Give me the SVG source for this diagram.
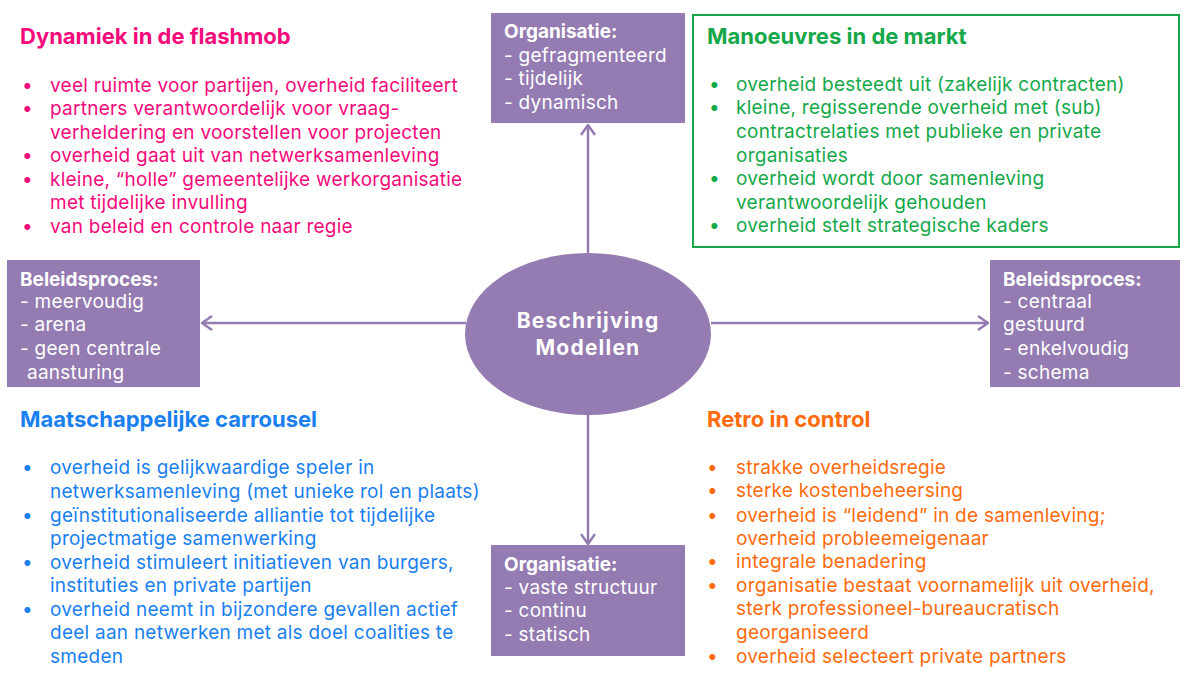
<svg xmlns="http://www.w3.org/2000/svg" width="1185" height="675" viewBox="0 0 1185 675">
<style>
text{font-family:Inter,"Open Sans","DejaVu Sans",sans-serif;font-size:19px;letter-spacing:0.25px}
.h{font-weight:bold;font-size:22px;letter-spacing:0}
.pink{fill:#f50a7c}.green{fill:#14a84a}.blue{fill:#1a7ff0}.orange{fill:#ff6b0d}
.w{fill:#ffffff}.b{font-weight:bold;font-size:19px;letter-spacing:0}
.c{font-weight:bold;font-size:21px;letter-spacing:1.2px}
.box{fill:#947bb1}
.conn{stroke:#947bb1;stroke-width:2.5;fill:none}
</style>
<defs>
<marker id="ah" viewBox="0 0 12 16" refX="11" refY="8" markerWidth="12" markerHeight="16" markerUnits="userSpaceOnUse" orient="auto">
<path d="M1,1 L11,8 L1,15" fill="none" stroke="#947bb1" stroke-width="2.5"/>
</marker>
</defs>
<rect width="1185" height="675" fill="#ffffff"/>
<g id="connectors">
<line class="conn" x1="588" y1="254" x2="588" y2="125" marker-end="url(#ah)"/>
<line class="conn" x1="588" y1="415" x2="588" y2="544" marker-end="url(#ah)"/>
<line class="conn" x1="466" y1="323" x2="202" y2="323" marker-end="url(#ah)"/>
<line class="conn" x1="711" y1="323" x2="988" y2="323" marker-end="url(#ah)"/>
</g>
<g id="center">
<ellipse cx="588" cy="334" rx="123" ry="81" class="box"/>
<text class="w c" x="588" y="328" text-anchor="middle">Beschrijving</text>
<text class="w c" x="588" y="355" text-anchor="middle">Modellen</text>
</g>
<g id="org-top">
<rect x="491" y="13" width="194" height="110" class="box"/>
<text class="w b" x="504" y="38">Organisatie:</text>
<text class="w" x="504" y="62">- gefragmenteerd</text>
<text class="w" x="504" y="85">- tijdelijk</text>
<text class="w" x="504" y="109">- dynamisch</text>
</g>
<g id="org-bottom">
<rect x="491" y="545" width="194" height="111" class="box"/>
<text class="w b" x="504" y="571">Organisatie:</text>
<text class="w" x="504" y="594">- vaste structuur</text>
<text class="w" x="504" y="617">- continu</text>
<text class="w" x="504" y="641">- statisch</text>
</g>
<g id="beleid-left">
<rect x="7" y="260" width="193" height="127" class="box"/>
<text class="w b" x="20" y="286">Beleidsproces:</text>
<text class="w" x="20" y="308">- meervoudig</text>
<text class="w" x="20" y="331">- arena</text>
<text class="w" x="20" y="355">- geen centrale</text>
<text class="w" x="27" y="379">aansturing</text>
</g>
<g id="beleid-right">
<rect x="990" y="260" width="190" height="127" class="box"/>
<text class="w b" x="1003" y="286">Beleidsproces:</text>
<text class="w" x="1003" y="308">- centraal</text>
<text class="w" x="1003" y="331">gestuurd</text>
<text class="w" x="1003" y="355">- enkelvoudig</text>
<text class="w" x="1003" y="379">- schema</text>
</g>
<g id="flashmob">
<text class="h pink" x="20" y="44">Dynamiek in de flashmob</text>
<text class="pink" x="22" y="92">•</text><text class="pink" x="50" y="92">veel ruimte voor partijen, overheid faciliteert</text>
<text class="pink" x="22" y="115">•</text><text class="pink" x="50" y="115">partners verantwoordelijk voor vraag-</text>
<text class="pink" x="50" y="139">verheldering en voorstellen voor projecten</text>
<text class="pink" x="22" y="162">•</text><text class="pink" x="50" y="162">overheid gaat uit van netwerksamenleving</text>
<text class="pink" x="22" y="186">•</text><text class="pink" x="50" y="186">kleine, “holle” gemeentelijke werkorganisatie</text>
<text class="pink" x="50" y="209">met tijdelijke invulling</text>
<text class="pink" x="22" y="233">•</text><text class="pink" x="50" y="233">van beleid en controle naar regie</text>
</g>
<g id="markt">
<rect x="693" y="15" width="486" height="232" fill="none" stroke="#14a84a" stroke-width="2"/>
<text class="h green" x="707" y="44">Manoeuvres in de markt</text>
<text class="green" x="709" y="91">•</text><text class="green" x="736" y="91">overheid besteedt uit (zakelijk contracten)</text>
<text class="green" x="709" y="114">•</text><text class="green" x="736" y="114">kleine, regisserende overheid met (sub)</text>
<text class="green" x="736" y="138">contractrelaties met publieke en private</text>
<text class="green" x="736" y="162">organisaties</text>
<text class="green" x="709" y="185">•</text><text class="green" x="736" y="185">overheid wordt door samenleving</text>
<text class="green" x="736" y="209">verantwoordelijk gehouden</text>
<text class="green" x="709" y="232">•</text><text class="green" x="736" y="232">overheid stelt strategische kaders</text>
</g>
<g id="carrousel">
<text class="h blue" x="20" y="427">Maatschappelijke carrousel</text>
<text class="blue" x="22" y="474">•</text><text class="blue" x="50" y="474">overheid is gelijkwaardige speler in</text>
<text class="blue" x="50" y="498">netwerksamenleving (met unieke rol en plaats)</text>
<text class="blue" x="22" y="522">•</text><text class="blue" x="50" y="522">geïnstitutionaliseerde alliantie tot tijdelijke</text>
<text class="blue" x="50" y="545">projectmatige samenwerking</text>
<text class="blue" x="22" y="569">•</text><text class="blue" x="50" y="569">overheid stimuleert initiatieven van burgers,</text>
<text class="blue" x="50" y="592">instituties en private partijen</text>
<text class="blue" x="22" y="616">•</text><text class="blue" x="50" y="616">overheid neemt in bijzondere gevallen actief</text>
<text class="blue" x="50" y="639">deel aan netwerken met als doel coalities te</text>
<text class="blue" x="50" y="663">smeden</text>
</g>
<g id="retro">
<text class="h orange" x="707" y="427">Retro in control</text>
<text class="orange" x="707" y="474">•</text><text class="orange" x="736" y="474">strakke overheidsregie</text>
<text class="orange" x="707" y="497">•</text><text class="orange" x="736" y="497">sterke kostenbeheersing</text>
<text class="orange" x="707" y="522">•</text><text class="orange" x="736" y="522">overheid is “leidend” in de samenleving;</text>
<text class="orange" x="736" y="545">overheid probleemeigenaar</text>
<text class="orange" x="707" y="568">•</text><text class="orange" x="736" y="568">integrale benadering</text>
<text class="orange" x="707" y="592">•</text><text class="orange" x="736" y="592">organisatie bestaat voornamelijk uit overheid,</text>
<text class="orange" x="736" y="615">sterk professioneel-bureaucratisch</text>
<text class="orange" x="736" y="639">georganiseerd</text>
<text class="orange" x="707" y="663">•</text><text class="orange" x="736" y="663">overheid selecteert private partners</text>
</g>
</svg>
